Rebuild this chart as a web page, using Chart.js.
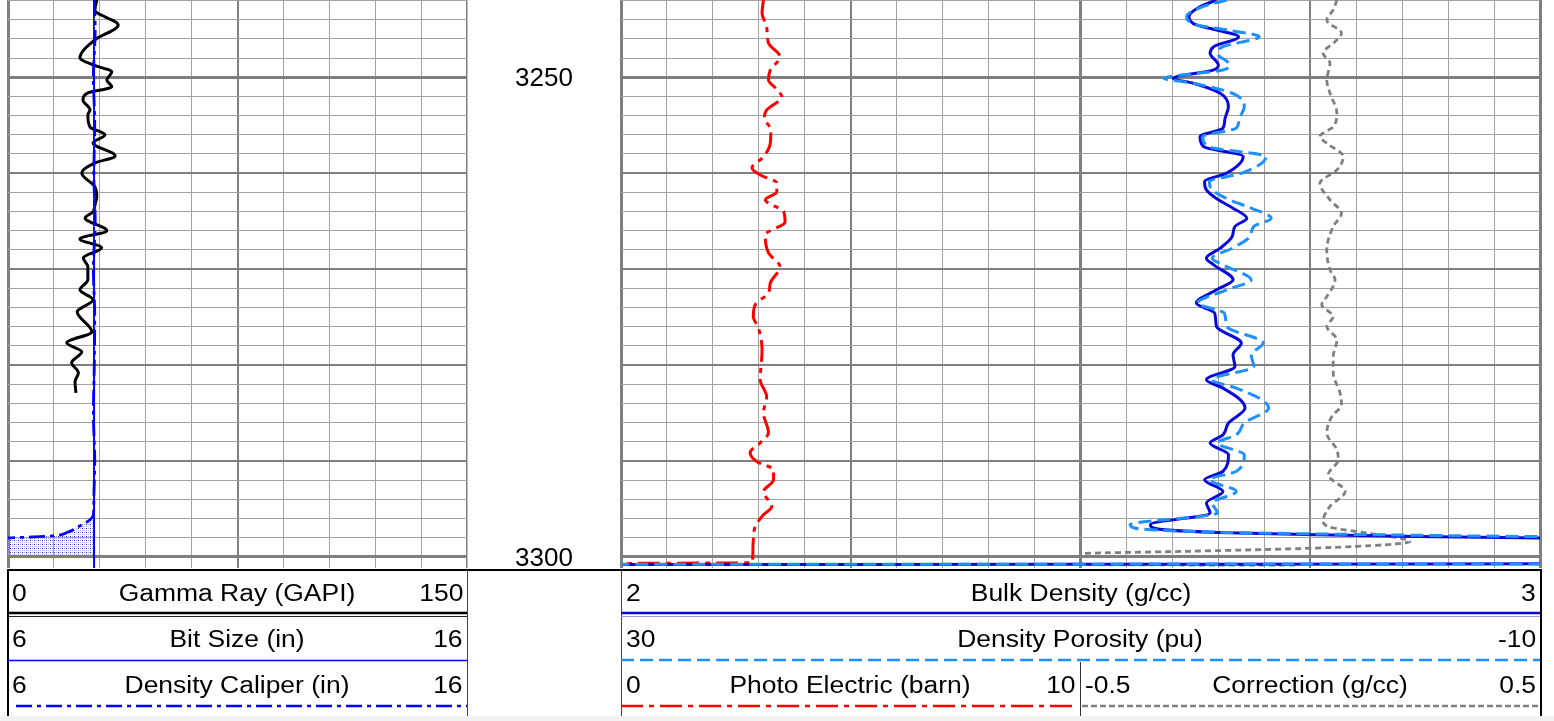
<!DOCTYPE html>
<html>
<head>
<meta charset="utf-8">
<title>Density log 3242 - 3301 m</title>
<script src="https://cdn.jsdelivr.net/npm/chart.js@4.4.1/dist/chart.umd.min.js"></script>
<style>
  html, body { margin: 0; padding: 0; background: #fff; }
  body { width: 1554px; height: 721px; position: relative; overflow: hidden;
         font-family: 'Liberation Sans', Arial, sans-serif; }
  canvas { position: absolute; top: 0; }
  #trackLeft { left: 0; }
  #trackRight { left: 611px; }
  svg.keys { position: absolute; left: 0; top: 0; pointer-events: none; }
  .lbl { position: absolute; font-size: 23px; line-height: 26px; height: 26px;
         white-space: nowrap; color: #000; }
  .lbl.l { transform-origin: left center; transform: translateY(-50%) scaleX(1.15); }
  .lbl.c { transform: translate(-50%, -50%) scaleX(1.15); }
  .lbl.r { transform-origin: right center; transform: translateY(-50%) scaleX(1.15); }
</style>
</head>
<body>
<canvas id="trackLeft" width="621" height="568" style="width:621px;height:568px"></canvas>
<canvas id="trackRight" width="943" height="568" style="width:943px;height:568px"></canvas>

<svg class="keys" width="1554" height="721">
  <rect x="0" y="716" width="1554" height="5" fill="#f2f2f2"/>
  <line x1="7" y1="570" x2="1541" y2="570" stroke="#000" stroke-width="2"/>
  <!-- left header box -->
  <line x1="8" y1="569" x2="8" y2="716" stroke="#000" stroke-width="2"/>
  <line x1="467.5" y1="570" x2="467.5" y2="716" stroke="#444" stroke-width="1"/>
  <line x1="8" y1="613" x2="467" y2="613" stroke="#000" stroke-width="2.5"/>
  <line x1="8" y1="616.5" x2="467" y2="616.5" stroke="#222" stroke-width="1"/>
  <line x1="8" y1="660.5" x2="467" y2="660.5" stroke="#0000ff" stroke-width="1.5"/>
  <line x1="16" y1="706" x2="467" y2="706" stroke="#0000ff" stroke-width="2.5" stroke-dasharray="16 5 4 5"/>
  <!-- right header box -->
  <line x1="621.5" y1="570" x2="621.5" y2="716" stroke="#444" stroke-width="1"/>
  <line x1="1541" y1="569" x2="1541" y2="716" stroke="#000" stroke-width="2"/>
  <line x1="621" y1="613" x2="1540" y2="613" stroke="#0a0ad8" stroke-width="2.5"/>
  <line x1="621" y1="616.5" x2="1540" y2="616.5" stroke="#9a9ad0" stroke-width="1"/>
  <line x1="621" y1="660" x2="1540" y2="660" stroke="#1e90ff" stroke-width="2.5" stroke-dasharray="13 6"/>
  <line x1="1080.5" y1="662" x2="1080.5" y2="716" stroke="#333" stroke-width="1"/>
  <line x1="621" y1="706" x2="1078" y2="706" stroke="#ff0000" stroke-width="2.5" stroke-dasharray="22 6 5 6"/>
  <line x1="1082" y1="706" x2="1540" y2="706" stroke="#808080" stroke-width="2.5" stroke-dasharray="6 3"/>
</svg>

<div class="lbl l" style="left:12px;top:592.5px">0</div>
<div class="lbl c" style="left:237px;top:592.5px">Gamma Ray (GAPI)</div>
<div class="lbl r" style="right:1091px;top:592.5px">150</div>
<div class="lbl l" style="left:12px;top:638.5px">6</div>
<div class="lbl c" style="left:237px;top:638.5px">Bit Size (in)</div>
<div class="lbl r" style="right:1091px;top:638.5px">16</div>
<div class="lbl l" style="left:12px;top:684.5px">6</div>
<div class="lbl c" style="left:237px;top:684.5px">Density Caliper (in)</div>
<div class="lbl r" style="right:1091px;top:684.5px">16</div>

<div class="lbl l" style="left:626px;top:592.5px">2</div>
<div class="lbl c" style="left:1081px;top:592.5px">Bulk Density (g/cc)</div>
<div class="lbl r" style="right:18px;top:592.5px">3</div>
<div class="lbl l" style="left:626px;top:638.5px">30</div>
<div class="lbl c" style="left:1080px;top:638.5px">Density Porosity (pu)</div>
<div class="lbl r" style="right:18px;top:638.5px">-10</div>
<div class="lbl l" style="left:626px;top:684.5px">0</div>
<div class="lbl c" style="left:850px;top:684.5px">Photo Electric (barn)</div>
<div class="lbl r" style="right:478px;top:684.5px">10</div>
<div class="lbl l" style="left:1085px;top:684.5px">-0.5</div>
<div class="lbl c" style="left:1310px;top:684.5px">Correction (g/cc)</div>
<div class="lbl r" style="right:18px;top:684.5px">0.5</div>

<script>
// depth window of both tracks (m)
const depthMin = 3241.95;
const depthMax = 3301.15;

// Gamma ray (GAPI)
const grDepth = [3241.95, 3243.0, 3244.55, 3246.1, 3248.0, 3248.72, 3249.45, 3250.28, 3251.0, 3251.64,
  3252.37, 3253.4, 3253.93, 3255.18, 3256.0, 3256.85, 3258.2, 3258.93, 3259.97, 3261.43,
  3262.47, 3263.3, 3264.03, 3264.66, 3266.0, 3266.85, 3267.78, 3268.83, 3269.76, 3271.1,
  3272.16, 3273.2, 3274.45, 3276.53, 3277.68, 3278.62, 3279.76, 3280.8, 3281.74, 3282.9];
const grValue = [29.0, 28.4, 36.0, 28.4, 23.5, 27.8, 33.9, 32.3, 33.9, 26.1,
  24.5, 26.8, 26.1, 26.8, 31.7, 27.8, 35.0, 28.4, 24.1, 28.4,
  29.0, 28.4, 27.8, 25.2, 32.3, 23.5, 30.6, 24.6, 26.1, 26.1,
  23.5, 27.8, 22.6, 27.4, 19.2, 24.1, 20.8, 23.0, 21.9, 22.2];

// Bit size (in)
const bitDepth = [3241.95, 3301.15];
const bitSize = [7.875, 7.875];

// Density caliper (in)
const calDepth = [3241.95, 3245.0, 3250.0, 3255.0, 3260.0, 3265.0, 3270.0, 3275.0, 3280.0, 3285.0,
  3290.0, 3294.0, 3295.6, 3296.15, 3296.75, 3297.45, 3297.8, 3297.92, 3298.05, 3299.0, 3299.9];
const calValue = [7.88, 7.9, 7.86, 7.89, 7.87, 7.9, 7.86, 7.89, 7.88, 7.86,
  7.89, 7.87, 7.86, 7.78, 7.57, 7.28, 6.98, 6.54, 5.9, 5.8, 5.8];

// Bulk density (g/cc) and density porosity (pu), same sampling
const rhoDepth = [3241.95, 3242.65, 3243.69, 3244.55, 3245.08, 3245.77, 3246.81, 3247.50, 3248.72, 3249.24,
  3250.11, 3250.63, 3251.67, 3253.06, 3254.45, 3255.31, 3256.19, 3257.23, 3258.27, 3260.00,
  3260.88, 3261.74, 3262.78, 3263.65, 3264.69, 3265.56, 3266.61, 3267.82, 3268.86, 3269.55,
  3271.12, 3272.16, 3273.54, 3274.59, 3275.98, 3277.71, 3278.93, 3280.15, 3281.53, 3282.40,
  3283.62, 3284.48, 3286.04, 3287.27, 3288.13, 3289.35, 3291.08, 3291.95, 3293.17, 3294.38,
  3295.42, 3296.64, 3296.98, 3297.44, 3297.68, 3297.86, 3298.02, 3298.10, 3300.70, 3300.80, 3301.15];
const rhoValue = [2.648, 2.630, 2.618, 2.626, 2.648, 2.672, 2.645, 2.641, 2.650, 2.645,
  2.601, 2.623, 2.652, 2.661, 2.657, 2.655, 2.630, 2.634, 2.677, 2.659,
  2.635, 2.637, 2.650, 2.666, 2.681, 2.668, 2.665, 2.652, 2.637, 2.645,
  2.666, 2.648, 2.626, 2.646, 2.648, 2.675, 2.666, 2.668, 2.637, 2.655,
  2.674, 2.679, 2.661, 2.655, 2.641, 2.661, 2.655, 2.635, 2.655, 2.637,
  2.641, 2.576, 2.579, 2.648, 2.757, 2.866, 3.0, 3.05, 3.05, 1.95, 1.95];
const phiValue = [3.63, 4.68, 5.38, 4.91, 3.63, 2.22, 3.80, 4.04, 3.51, 3.80,
  6.37, 5.09, 3.39, 2.87, 3.10, 3.22, 4.68, 4.44, 1.93, 2.98,
  4.39, 4.27, 3.51, 2.57, 1.70, 2.46, 2.63, 3.39, 4.27, 3.80,
  2.57, 3.63, 4.91, 3.74, 3.63, 2.05, 2.57, 2.46, 4.27, 3.22,
  2.11, 1.81, 2.87, 3.22, 4.04, 2.87, 3.22, 4.39, 3.22, 4.27,
  4.04, 7.84, 7.66, 3.63, -2.75, -9.12, -16.96, -19.9, -19.9, 44.4, 44.4];

// Photo electric factor (barn)
const peDepth = [3241.95, 3243.30, 3244.76, 3246.43, 3247.89, 3249.24, 3250.28, 3251.12, 3252.05, 3253.41,
  3254.24, 3255.49, 3256.85, 3258.30, 3259.45, 3260.18, 3261.01, 3261.95, 3262.78, 3264.03,
  3265.08, 3266.43, 3268.30, 3269.76, 3271.43, 3272.47, 3273.72, 3274.97, 3276.12, 3278.41,
  3281.53, 3283.30, 3284.97, 3287.05, 3288.10, 3289.14, 3290.08, 3290.91, 3291.95, 3293.20,
  3294.76, 3295.60, 3296.85, 3298.20, 3299.55, 3300.60, 3300.70, 3301.15];
const peValue = [3.10, 3.07, 3.17, 3.21, 3.46, 3.25, 3.21, 3.36, 3.50, 3.17,
  3.12, 3.26, 3.25, 3.10, 2.85, 3.03, 3.39, 3.39, 3.14, 3.54,
  3.57, 3.14, 3.21, 3.46, 3.25, 3.21, 2.92, 2.88, 2.99, 3.07,
  3.03, 3.17, 3.10, 3.21, 3.03, 2.81, 2.96, 3.32, 3.32, 3.10,
  3.28, 3.10, 2.92, 2.88, 2.87, 2.85, -0.5, -0.5];

// Density correction (g/cc)
const corDepth = [3241.95, 3242.99, 3244.03, 3245.42, 3246.29, 3247.50, 3248.54, 3250.28, 3251.67, 3253.75,
  3255.15, 3256.19, 3256.88, 3258.27, 3259.66, 3261.04, 3262.78, 3264.17, 3265.56, 3267.99,
  3270.07, 3271.12, 3272.86, 3273.72, 3274.94, 3275.98, 3277.37, 3279.11, 3280.84, 3282.92,
  3284.14, 3285.36, 3287.09, 3288.83, 3289.87, 3291.43, 3293.17, 3294.73, 3296.29, 3296.98,
  3297.50, 3298.38, 3299.07, 3299.42, 3299.66, 3300.80, 3300.86];
const corValue = [0.058, 0.050, 0.036, 0.068, 0.054, 0.028, 0.043, 0.036, 0.043, 0.058,
  0.050, 0.021, 0.036, 0.072, 0.058, 0.021, 0.043, 0.068, 0.050, 0.036,
  0.043, 0.054, 0.036, 0.025, 0.050, 0.036, 0.058, 0.050, 0.050, 0.065,
  0.068, 0.047, 0.036, 0.058, 0.061, 0.039, 0.076, 0.043, 0.028, 0.050,
  0.123, 0.217, 0.014, -0.276, -0.5, -0.5, -0.026];

const GRID_MINOR = '#a3a3a3';
const GRID_MAJOR = '#7f7f7f';

Chart.defaults.font.family = "'Liberation Sans', Arial, sans-serif";

// zip depth/value lists into {x: value, y: depth} points
function pairs(depths, values) {
  return depths.map((d, i) => ({ x: values[i], y: d }));
}

// dotted fill for caliper washout / mudcake area
function makeStipple() {
  const c = document.createElement('canvas');
  c.width = 4; c.height = 4;
  const g = c.getContext('2d');
  g.fillStyle = 'rgba(150,160,235,0.9)';
  g.fillRect(0, 0, 1, 1);
  g.fillRect(2, 2, 1, 1);
  g.fillStyle = 'rgba(185,190,240,0.8)';
  g.fillRect(0, 2, 1, 1);
  g.fillStyle = '#2424a8';
  g.fillRect(2, 0, 1, 1);
  return g.createPattern(c, 'repeat');
}

// horizontal depth lines: every 2 m, heavier every 10 m and 50 m
const depthGrid = {
  drawTicks: false,
  color: c => (c.tick && c.tick.value % 10 === 0) ? GRID_MAJOR : GRID_MINOR,
  lineWidth: c => {
    const v = c.tick ? c.tick.value : 0;
    if (v % 50 === 0) return 3;
    if (v % 10 === 0) return 2;
    return 1;
  }
};

const baseOptions = {
  responsive: false,
  animation: false,
  indexAxis: 'y',
  events: [],
  elements: {
    point: { radius: 0, hoverRadius: 0 },
    line: { cubicInterpolationMode: 'monotone', fill: false }
  },
  plugins: { legend: { display: false }, tooltip: { enabled: false } }
};

/* ------------------------
   Track 1: GR, bit size, caliper
------------------------ */
new Chart(document.getElementById('trackLeft'), {
  type: 'line',
  data: {
    datasets: [
      {
        label: 'Density Caliper',
        data: pairs(calDepth, calValue),
        xAxisID: 'xCal',
        borderColor: '#0000ff',
        borderWidth: 2.8,
        borderDash: [16, 5, 4, 5],
        fill: { value: 7.875 },
        backgroundColor: makeStipple()
      },
      {
        label: 'Bit Size',
        data: pairs(bitDepth, bitSize),
        xAxisID: 'xCal',
        borderColor: '#0000ff',
        borderWidth: 2
      },
      {
        label: 'Gamma Ray',
        data: pairs(grDepth, grValue),
        xAxisID: 'xGr',
        borderColor: '#000000',
        borderWidth: 3
      }
    ]
  },
  options: {
    ...baseOptions,
    layout: { padding: { left: 8, right: 0, top: 0, bottom: 0 } },
    scales: {
      xGr: {
        type: 'linear', position: 'bottom', min: 0, max: 150,
        ticks: { display: false, stepSize: 15 },
        border: { display: false },
        grid: {
          drawTicks: false,
          color: c => (c.index % 5 === 0) ? GRID_MAJOR : GRID_MINOR,
          lineWidth: c => c.index === 0 ? 3 : c.index === 5 ? 2 : c.index === 10 ? 1.5 : 1
        }
      },
      xCal: { type: 'linear', display: false, min: 6, max: 16 },
      y: {
        type: 'linear', position: 'right', reverse: true,
        min: depthMin, max: depthMax,
        border: { display: false },
        grid: depthGrid,
        ticks: {
          stepSize: 2, autoSkip: false, includeBounds: false,
          padding: 48, labelOffset: 2, color: '#000', font: { size: 26 },
          callback: v => (v % 50 === 0 ? String(v) : '')
        },
        afterFit: s => { s.width = 154; s.paddingTop = 0; s.paddingBottom = 0; }
      }
    }
  }
});

/* ------------------------
   Track 2: density, porosity, PE, correction
------------------------ */
new Chart(document.getElementById('trackRight'), {
  type: 'line',
  data: {
    datasets: [
      {
        label: 'Density Porosity',
        data: pairs(rhoDepth, phiValue),
        xAxisID: 'xPhi',
        borderColor: '#1e90ff',
        borderWidth: 3,
        borderDash: [13, 6]
      },
      {
        label: 'Bulk Density',
        data: pairs(rhoDepth, rhoValue),
        xAxisID: 'xRho',
        borderColor: '#0a0ad8',
        borderWidth: 3
      },
      {
        label: 'Photo Electric',
        data: pairs(peDepth, peValue),
        xAxisID: 'xPe',
        borderColor: '#ff0000',
        borderWidth: 3,
        borderDash: [22, 6, 5, 6]
      },
      {
        label: 'Correction',
        data: pairs(corDepth, corValue),
        xAxisID: 'xCor',
        borderColor: '#808080',
        borderWidth: 2.8,
        borderDash: [6, 4]
      }
    ]
  },
  options: {
    ...baseOptions,
    layout: { padding: { left: 10, right: 14, top: 0, bottom: 0 } },
    scales: {
      xRho: {
        type: 'linear', position: 'bottom', min: 2, max: 3,
        ticks: { display: false, stepSize: 0.05 },
        border: { display: false },
        grid: {
          drawTicks: false,
          color: c => (c.index % 5 === 0) ? GRID_MAJOR : GRID_MINOR,
          lineWidth: c => (c.index % 10 === 0) ? 3 : (c.index % 5 === 0) ? 2 : 1
        }
      },
      xPhi: { type: 'linear', display: false, min: -10, max: 30, reverse: true },
      // PE 0-10 spans the left half, correction -0.5..0.5 the right half
      xPe: { type: 'linear', display: false, min: 0, max: 20 },
      xCor: { type: 'linear', display: false, min: -1.5, max: 0.5 },
      y: {
        type: 'linear', position: 'left', reverse: true,
        min: depthMin, max: depthMax,
        border: { display: false },
        grid: depthGrid,
        ticks: { display: false, stepSize: 2, includeBounds: false },
        afterFit: s => { s.width = 0; s.paddingTop = 0; s.paddingBottom = 0; }
      }
    }
  }
});
</script>
</body>
</html>
